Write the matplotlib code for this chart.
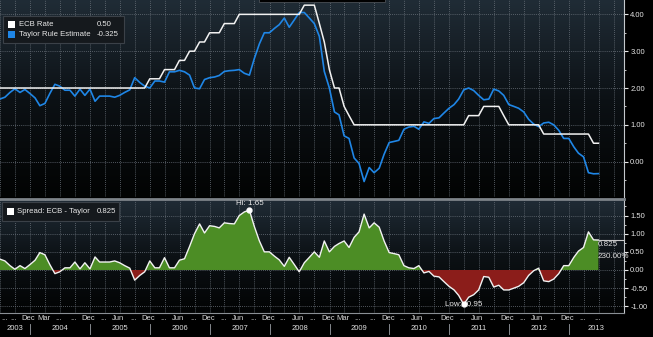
import matplotlib
matplotlib.use("Agg")
import matplotlib.pyplot as plt
import matplotlib.dates as mdates
import matplotlib.transforms as mtransforms
from matplotlib.colors import LinearSegmentedColormap
from matplotlib.patches import Rectangle
import numpy as np
import pandas as pd

plt.rcParams["font.family"] = ["Liberation Sans", "DejaVu Sans"]
plt.rcParams["font.size"] = 5.5

W, H = 653, 337

# month-end observations, Jun 2003 .. Jun 2013
months = pd.date_range("2003-06-30", "2013-06-30", freq="ME")

ecb_rate = [
    2.00, 2.00, 2.00, 2.00, 2.00, 2.00, 2.00,                                # 2003 Jun-Dec
    2.00, 2.00, 2.00, 2.00, 2.00, 2.00, 2.00, 2.00, 2.00, 2.00, 2.00, 2.00,  # 2004
    2.00, 2.00, 2.00, 2.00, 2.00, 2.00, 2.00, 2.00, 2.00, 2.00, 2.00, 2.25,  # 2005
    2.25, 2.25, 2.50, 2.50, 2.50, 2.75, 2.75, 3.00, 3.00, 3.25, 3.25, 3.50,  # 2006
    3.50, 3.50, 3.75, 3.75, 3.75, 4.00, 4.00, 4.00, 4.00, 4.00, 4.00, 4.00,  # 2007
    4.00, 4.00, 4.00, 4.00, 4.00, 4.00, 4.25, 4.25, 4.25, 3.75, 3.25, 2.50,  # 2008
    2.00, 2.00, 1.50, 1.25, 1.00, 1.00, 1.00, 1.00, 1.00, 1.00, 1.00, 1.00,  # 2009
    1.00, 1.00, 1.00, 1.00, 1.00, 1.00, 1.00, 1.00, 1.00, 1.00, 1.00, 1.00,  # 2010
    1.00, 1.00, 1.00, 1.25, 1.25, 1.25, 1.50, 1.50, 1.50, 1.50, 1.25, 1.00,  # 2011
    1.00, 1.00, 1.00, 1.00, 1.00, 1.00, 0.75, 0.75, 0.75, 0.75, 0.75, 0.75,  # 2012
    0.75, 0.75, 0.75, 0.75, 0.50, 0.50,                                      # 2013 Jan-Jun
]

taylor_estimate = [
    1.70, 1.75, 1.88, 1.98, 1.88, 1.96, 1.85,
    1.73, 1.52, 1.58, 1.85, 2.10, 2.05, 1.94, 1.94, 1.78, 1.97, 1.80, 1.97,
    1.64, 1.78, 1.78, 1.78, 1.75, 1.80, 1.88, 1.95, 2.28, 2.15, 2.05, 2.00,
    2.19, 2.19, 2.16, 2.44, 2.44, 2.48, 2.44, 2.35, 2.00, 1.98, 2.23, 2.28,
    2.30, 2.34, 2.45, 2.47, 2.48, 2.50, 2.40, 2.35, 2.80, 3.20, 3.50, 3.50,
    3.62, 3.72, 3.90, 3.65, 3.85, 4.05, 4.05, 3.90, 3.75, 3.40, 2.45, 2.00,
    1.35, 1.27, 0.70, 0.63, 0.10, -0.05, -0.54, -0.16, -0.30, -0.18, 0.20, 0.52,
    0.55, 0.58, 0.88, 0.94, 0.96, 0.88, 1.08, 1.04, 1.17, 1.19, 1.32, 1.45,
    1.55, 1.70, 1.95, 2.00, 1.93, 1.80, 1.68, 1.70, 1.97, 1.92, 1.80, 1.55,
    1.50, 1.45, 1.35, 1.15, 1.02, 0.95, 1.05, 1.07, 1.00, 0.85, 0.63, 0.63,
    0.40, 0.23, 0.13, -0.30, -0.33, -0.325,
]

# quarter labels along the time axis, Jul 2003 .. Jul 2013
quarter_labels = [
    "...", "...",
    "Dec", "Mar", "...", "...",
    "Dec", "...", "Jun", "...",
    "Dec", "...", "Jun", "...",
    "Dec", "...", "Jun", "...",
    "Dec", "...", "Jun", "...",
    "Dec", "Mar", "...", "...",
    "Dec", "...", "Jun", "...",
    "Dec", "...", "Jun", "...",
    "Dec", "...", "Jun", "...",
    "Dec", "...", "...",
]
years = list(range(2003, 2014))
spread_change_label = "230.00%"

ecb = np.array(ecb_rate)
taylor = np.array(taylor_estimate)
spread = np.round(ecb - taylor, 3)

x = mdates.date2num(months)
x_left = mdates.date2num(pd.Timestamp("2003-07-05"))
x_right = mdates.date2num(pd.Timestamp("2013-12-03"))
quarters = mdates.date2num(pd.date_range("2003-07-01", "2013-10-01", freq="QS"))
days_per_px = 1 / 0.1641

fig = plt.figure(figsize=(W / 100, H / 100), dpi=100, facecolor="black")


def px_box(x0, y0, x1, y1):
    return [x0 / W, 1 - y1 / H, (x1 - x0) / W, (y1 - y0) / H]


def fx(px):
    return px / W


def fy(py):
    return 1 - py / H


ax_top = fig.add_axes(px_box(0, 0, 624, 197))
ax_bot = fig.add_axes(px_box(0, 199, 624, 313))

bg = LinearSegmentedColormap.from_list("bg", ["#202c36", "#0c1115", "#020303"])
grad = np.linspace(0, 1, 256).reshape(-1, 1)
for ax in (ax_top, ax_bot):
    ax.set_facecolor("black")
    ax.imshow(grad, cmap=bg, extent=[0, 1, 0, 1], transform=ax.transAxes,
              aspect="auto", zorder=0, interpolation="bilinear")
    ax.set_xlim(x_left, x_right)
    ax.set_xticks(quarters)
    ax.tick_params(axis="x", length=0, labelbottom=False)
    ax.yaxis.tick_right()
    ax.tick_params(axis="y", which="major", colors="#e6e6e6", length=3,
                   width=0.8, pad=1.5, labelsize=5.5)
    ax.tick_params(axis="y", which="minor", colors="#e6e6e6", length=1.5,
                   width=0.6)
    ax.grid(True, which="major", color="#6a727b", lw=0.6, ls=(0, (1, 1.5)))
    for side in ("left", "top", "bottom"):
        ax.spines[side].set_visible(False)
    ax.spines["right"].set_color("#c4c8cc")
    ax.spines["right"].set_linewidth(0.8)

# rates panel
ax_top.plot(x, taylor, color="#1f86e6", lw=1.2, zorder=3)
ax_top.plot(x, ecb, color="#f2f2f2", lw=1.1, zorder=4)
ax_top.set_ylim(-0.96, 4.39)
ax_top.set_yticks(np.arange(0, 4.01, 1.0))
ax_top.set_yticks(np.arange(-0.5, 4.3, 1.0), minor=True)
ax_top.yaxis.set_major_formatter(matplotlib.ticker.FormatStrFormatter("%.2f"))

# spread panel
ax_bot.fill_between(x, spread, 0, where=spread >= 0, interpolate=True,
                    color="#4c8d25", lw=0, zorder=2)
ax_bot.fill_between(x, spread, 0, where=spread <= 0, interpolate=True,
                    color="#8b1d1a", lw=0, zorder=2)
ax_bot.plot(x, spread, color="#f2f2f2", lw=1.0, zorder=4)
ax_bot.plot([x[-1], x_right], [spread[-1], spread[-1]], color="#c8c8c8",
            lw=0.8, zorder=4, clip_on=False)
ax_bot.set_ylim(-1.185, 1.956)
ax_bot.set_yticks(np.arange(-1.0, 1.51, 0.5))
ax_bot.set_yticks(np.arange(-0.75, 1.8, 0.5), minor=True)
ax_bot.yaxis.set_major_formatter(matplotlib.ticker.FormatStrFormatter("%.2f"))
ax_bot.spines["top"].set_visible(True)
ax_bot.spines["top"].set_color("#7d8389")
ax_bot.spines["top"].set_linewidth(2.0)
ax_bot.spines["bottom"].set_visible(True)
ax_bot.spines["bottom"].set_color("#8a8f94")
ax_bot.spines["bottom"].set_linewidth(0.8)

i_hi = int(np.argmax(spread))
i_lo = int(np.argmin(spread))
ax_bot.annotate(f"Hi: {spread[i_hi]:.2f}", (x[i_hi], spread[i_hi]),
                xytext=(0, 2), textcoords="offset points", ha="center",
                va="bottom", color="#e8e8e8", fontsize=5.8, zorder=6)
ax_bot.text(x[i_lo], spread[i_lo], f"Low: {spread[i_lo]:.2f}", ha="center",
            va="center", color="#e8e8e8", fontsize=5.8, zorder=6)
ax_bot.plot([x[i_hi], x[i_lo]], [spread[i_hi], spread[i_lo]], "o", ls="none",
            color="white", ms=3.5, zorder=7)

# last value tag
fig.text(fx(597.5), fy(245), f"{spread[-1]:.3f}", color="#e0e0e0",
         ha="left", va="center", fontsize=5.8)
fig.text(fx(597.5), fy(256), spread_change_label, color="#e0e0e0",
         ha="left", va="center", fontsize=5.8)

# time axis labels
trans = mtransforms.blended_transform_factory(ax_bot.transData, fig.transFigure)
for q, lab in zip(quarters, quarter_labels):
    qx = q - 1.5 * days_per_px
    if qx < x_left + 3 * days_per_px:
        ax_bot.text(x_left + 0.5 * days_per_px, fy(319), lab, transform=trans,
                    ha="left", va="center", color="#d8d8d8", clip_on=False)
    else:
        ax_bot.text(qx, fy(319), lab, transform=trans, ha="center",
                    va="center", color="#d8d8d8", clip_on=False)
for yr in years:
    start = max(mdates.date2num(pd.Timestamp(f"{yr}-01-01")), x_left)
    end = min(mdates.date2num(pd.Timestamp(f"{yr + 1}-01-01")), x_right)
    ax_bot.text((start + end) / 2, fy(329), str(yr), transform=trans,
                ha="center", va="center", color="#e0e0e0", clip_on=False)
    if yr > 2003:
        ax_bot.plot([start, start], [fy(324), fy(334)], transform=trans,
                    color="#9a9fa4", lw=0.6, clip_on=False)

# legends
fig.patches.append(Rectangle((fx(3.3), fy(42.7)), fx(120.7), 27 / H,
                             transform=fig.transFigure, facecolor="#15191d",
                             edgecolor="#3b4148", lw=0.8))
fig.patches.append(Rectangle((fx(8), fy(27.5)), fx(6.5), 6.5 / H,
                             transform=fig.transFigure, facecolor="white",
                             edgecolor="none"))
fig.patches.append(Rectangle((fx(8), fy(37.5)), fx(6.5), 6.5 / H,
                             transform=fig.transFigure, facecolor="#1f86e6",
                             edgecolor="none"))
fig.text(fx(19), fy(24.5), "ECB Rate", color="#e8e8e8", va="center",
         fontsize=5.6)
fig.text(fx(96.5), fy(24.5), f"{ecb[-1]:.2f}", color="#e8e8e8", va="center",
         fontsize=5.6)
fig.text(fx(19), fy(34.5), "Taylor Rule Estimate", color="#e8e8e8",
         va="center", fontsize=5.6)
fig.text(fx(96.5), fy(34.5), f"{taylor[-1]:.3f}", color="#e8e8e8",
         va="center", fontsize=5.6)

fig.patches.append(Rectangle((fx(1.7), fy(221)), fx(117.3), 19 / H,
                             transform=fig.transFigure, facecolor="#15191d",
                             edgecolor="#3b4148", lw=0.8))
fig.patches.append(Rectangle((fx(7), fy(214.5)), fx(6.5), 6.5 / H,
                             transform=fig.transFigure, facecolor="white",
                             edgecolor="none"))
fig.text(fx(17), fy(211.3), "Spread: ECB - Taylor", color="#e8e8e8",
         va="center", fontsize=5.6)
fig.text(fx(97), fy(211.3), f"{spread[-1]:.3f}", color="#e8e8e8",
         va="center", fontsize=5.6)

# clipped annotation box at the top edge
fig.patches.append(Rectangle((fx(259), fy(2)), fx(126), 6 / H,
                             transform=fig.transFigure, facecolor="black",
                             edgecolor="#4a4f55", lw=0.6))

fig.savefig("out.png", dpi=100, facecolor="black")
